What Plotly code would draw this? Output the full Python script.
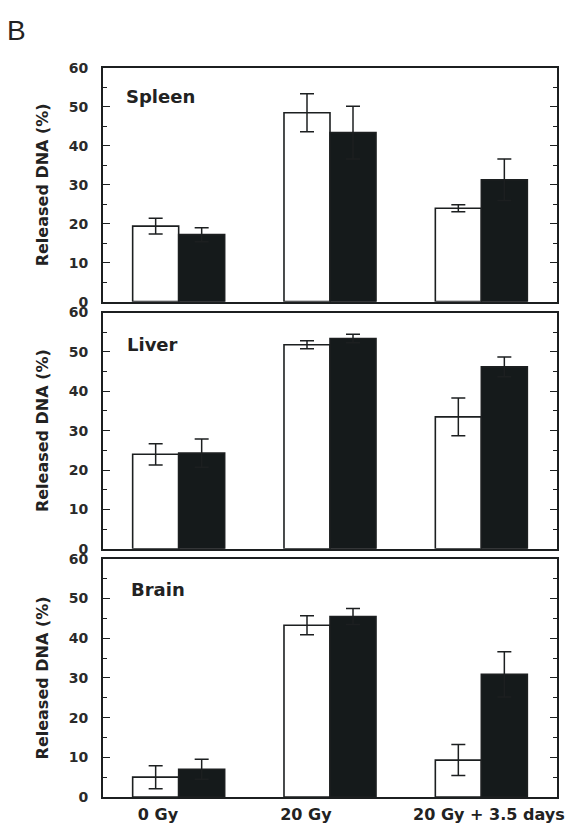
import plotly.graph_objects as go
from plotly.subplots import make_subplots

categories = ["0 Gy", "20 Gy", "20 Gy + 3.5 days"]
tissues = ["Spleen", "Liver", "Brain"]

spleen_open = [19.4, 48.5, 24.0]
spleen_open_err = [2.0, 4.9, 0.9]
spleen_solid = [17.2, 43.4, 31.3]
spleen_solid_err = [1.8, 6.8, 5.3]

liver_open = [24.0, 51.8, 33.5]
liver_open_err = [2.7, 1.0, 4.8]
liver_solid = [24.3, 53.4, 46.2]
liver_solid_err = [3.6, 1.1, 2.5]

brain_open = [5.0, 43.3, 9.3]
brain_open_err = [2.9, 2.4, 3.9]
brain_solid = [7.0, 45.5, 30.9]
brain_solid_err = [2.5, 2.0, 5.7]

y_tick_values = [0, 10, 20, 30, 40, 50, 60]

open_series = [spleen_open, liver_open, brain_open]
open_errs = [spleen_open_err, liver_open_err, brain_open_err]
solid_series = [spleen_solid, liver_solid, brain_solid]
solid_errs = [spleen_solid_err, liver_solid_err, brain_solid_err]

FONT = "DejaVu Sans"
INK = "#1c1f20"
x_pos = list(range(len(categories)))

fig = make_subplots(rows=3, cols=1)

for i in range(3):
    r = i + 1
    fig.add_trace(go.Bar(
        x=x_pos, y=open_series[i], name="open",
        marker=dict(color="white", line=dict(color=INK, width=1.6)),
        error_y=dict(type="data", array=open_errs[i], color=INK, thickness=1.5, width=7),
        showlegend=False, offsetgroup="a"), row=r, col=1)
    fig.add_trace(go.Bar(
        x=x_pos, y=solid_series[i], name="solid",
        marker=dict(color="#151a1b", line=dict(color=INK, width=1.6)),
        error_y=dict(type="data", array=solid_errs[i], color=INK, thickness=1.5, width=7),
        showlegend=False, offsetgroup="b"), row=r, col=1)

domains = [[0.6795, 1.0], [0.3405, 0.6646], [0.0, 0.3266]]
label_pos = [(0.046, 0.877), (0.048, 0.865), (0.057, 0.87)]

for i in range(3):
    sfx = "" if i == 0 else str(i + 1)
    fig.layout["yaxis" + sfx].update(
        domain=domains[i], range=[0, 60], tickvals=y_tick_values,
        ticks="inside", ticklen=7, tickwidth=1.3, tickcolor=INK,
        minor=dict(ticks="inside", dtick=5, ticklen=4, tickwidth=1.2, tickcolor=INK),
        showline=True, linewidth=1.8, linecolor=INK, mirror="ticks",
        showgrid=False, zeroline=False,
        tickfont=dict(family=FONT, size=14, color="#2a2a2a", weight="bold"),
        ticklabelstandoff=10,
        title=dict(text="Released DNA (%)", standoff=16,
                   font=dict(family=FONT, size=16, color="#222", weight="bold")),
    )
    fig.layout["xaxis" + sfx].update(
        domain=[0, 1], range=[-0.5, 2.5],
        showline=True, linewidth=1.8, linecolor=INK, mirror=True,
        showgrid=False, zeroline=False, ticks="",
        showticklabels=(i == 2),
    )
    fig.add_annotation(
        text=tissues[i], xref=f"x{sfx} domain", yref=f"y{sfx} domain",
        x=label_pos[i][0], y=label_pos[i][1], xanchor="left", yanchor="middle",
        showarrow=False, font=dict(family=FONT, size=18, color="#222", weight="bold"))

fig.layout["xaxis3"].update(
    tickvals=[-0.137, 0.841, 2.05], ticktext=categories,
    tickfont=dict(family=FONT, size=16, color="#222", weight="bold"),
    ticklabelstandoff=2,
)

fig.add_annotation(text="B", xref="paper", yref="paper", x=-0.19, y=1.052,
                   xanchor="center", yanchor="middle", showarrow=False,
                   font=dict(family="Liberation Sans", size=28, color="#222"))

fig.update_layout(
    width=575, height=828,
    margin=dict(l=95, r=26, t=60, b=30),
    paper_bgcolor="white", plot_bgcolor="white",
    barmode="group", bargap=0.392, bargroupgap=0,
)

fig.write_html("out.html")
